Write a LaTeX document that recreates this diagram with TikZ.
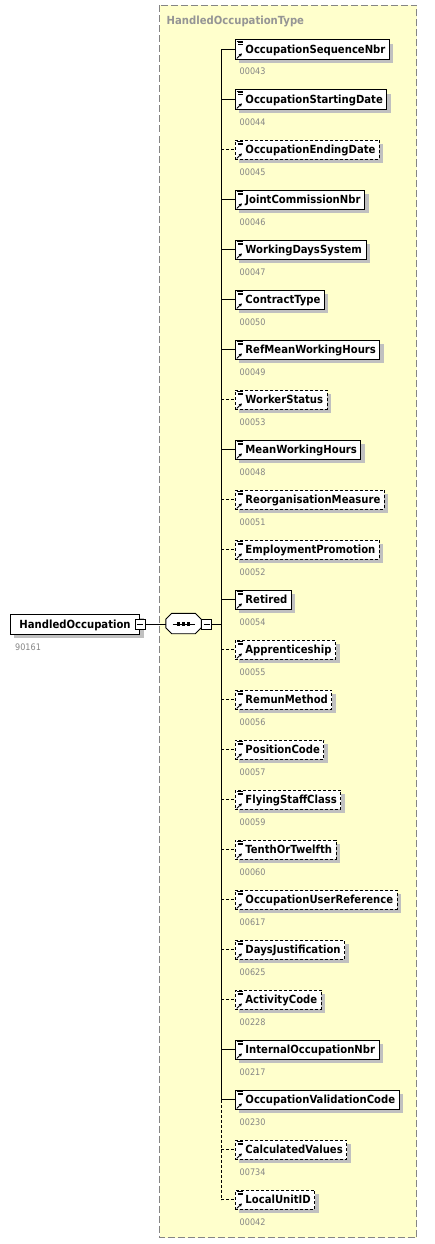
\documentclass[tikz,border=0pt]{standalone}
\usepackage{fontspec}
\newfontfamily\condfont{DejaVuSansCondensed}[Extension=.ttf, UprightFont=*, BoldFont=*-Bold]
\usetikzlibrary{calc,shadows,arrows.meta}
\definecolor{bgyellow}{HTML}{FFFFCC}
\definecolor{shadowgray}{HTML}{C0C0C0}
\definecolor{bordergray}{HTML}{858585}
\definecolor{numgray}{HTML}{858585}
\definecolor{titlegray}{HTML}{959595}
\newcommand\elemfont{\condfont\bfseries\fontsize{11.2}{13}\selectfont}
\newcommand\numfont{\condfont\fontsize{9}{10}\selectfont}
\begin{document}
\begin{tikzpicture}[x=1pt,y=-1pt,
  typeframe/.style={draw=bordergray, line width=1.1pt, dash pattern=on 7pt off 3pt, fill=bgyellow},
  elem/.style={draw, fill=white, line width=0.9pt, anchor=west, minimum height=19.5pt,
    inner ysep=0pt, inner xsep=4pt, font=\elemfont, text height=8pt, text depth=0pt,
    general shadow={fill=shadowgray, draw=none, shadow xshift=4pt, shadow yshift=-4pt}},
  mandelem/.style={solid},
  optelem/.style={dash pattern=on 3pt off 2pt},
  numlabel/.style={anchor=base west, font=\numfont, text=numgray, inner sep=0pt},
  icon/.style={line width=0.8pt},
  branch/.style={line width=0.9pt},
  minusbox/.style={draw, fill=white, line width=0.8pt, minimum size=10pt, inner sep=0pt},
  mainbox/.style={draw, fill=white, line width=0.9pt, anchor=west, minimum height=20pt,
    inner ysep=0pt, inner xsep=9pt, font=\elemfont, text height=8pt, text depth=0pt,
    general shadow={fill=shadowgray, draw=none, shadow xshift=4pt, shadow yshift=-4pt}},
  compnode/.style={minimum width=35pt, minimum height=20pt, inner sep=0pt, draw=none},
]
\useasboundingbox (0,0) rectangle (435,1244);
\draw[typeframe] (159.5,5.5) rectangle (416.5,1237.5);
\node[anchor=base west, font=\elemfont, text=titlegray, inner sep=0pt] (title) at (166.5,24.3) {HandledOccupationType};

\foreach \name/\num/\kind [count=\i] in {
OccupationSequenceNbr/00043/mandelem,
OccupationStartingDate/00044/mandelem,
OccupationEndingDate/00045/optelem,
JointCommissionNbr/00046/mandelem,
WorkingDaysSystem/00047/mandelem,
ContractType/00050/mandelem,
RefMeanWorkingHours/00049/mandelem,
WorkerStatus/00053/optelem,
MeanWorkingHours/00048/mandelem,
ReorganisationMeasure/00051/optelem,
EmploymentPromotion/00052/optelem,
Retired/00054/mandelem,
Apprenticeship/00055/optelem,
RemunMethod/00056/optelem,
PositionCode/00057/optelem,
FlyingStaffClass/00059/optelem,
TenthOrTwelfth/00060/optelem,
OccupationUserReference/00617/optelem,
DaysJustification/00625/optelem,
ActivityCode/00228/optelem,
InternalOccupationNbr/00217/mandelem,
OccupationValidationCode/00230/mandelem,
CalculatedValues/00734/optelem,
LocalUnitID/00042/optelem}
{
  \coordinate (j\i) at (221,50*\i-0.3);
  \node[elem,\kind] (e\i) at (235,50*\i-0.3) {\hspace*{6pt}\name};
  \node[numlabel] (n\i) at (239.5,50*\i+25) {\num};
  \draw[icon] ($(e\i.north west)+(1.5,1.6)$) -- ($(e\i.north west)+(7.5,1.6)$);
  \draw[icon] ($(e\i.north west)+(3,3.4)$) -- ($(e\i.north west)+(7.5,3.4)$);
  \draw[icon] ($(e\i.north west)+(3,5.2)$) -- ($(e\i.north west)+(7.5,5.2)$);
  \draw[icon,-{Triangle[length=3pt,width=3pt]}] ($(e\i.south west)+(1.8,-1.5)$) -- ($(e\i.south west)+(7,-6.5)$);
  \draw[branch,\kind] (j\i) -- (e\i.west);
}
\draw[branch] (j1) -- (j22);
\draw[branch,optelem] (j22) -- (j24);

\node[mainbox] (main) at (10,624) {HandledOccupation};
\node[numlabel] (mainnum) at (15,650) {90161};
\node[minusbox] (mminus) at (main.east) {};
\draw[line width=0.8pt] ($(mminus.center)+(-3,0)$) -- ($(mminus.center)+(3,0)$);

\node[compnode] (seq) at (183.5,623.5) {};
\fill[shadowgray, xshift=4pt, yshift=-4pt]
  ($(seq.north west)+(6,0)$) -- ($(seq.north east)+(-6,0)$) -- ($(seq.north east)+(0,6)$) --
  ($(seq.south east)+(0,-6)$) -- ($(seq.south east)+(-6,0)$) -- ($(seq.south west)+(6,0)$) --
  ($(seq.south west)+(0,-6)$) -- ($(seq.north west)+(0,6)$) -- cycle;
\draw[fill=white, line width=0.9pt]
  ($(seq.north west)+(6,0)$) -- ($(seq.north east)+(-6,0)$) -- ($(seq.north east)+(0,6)$) --
  ($(seq.south east)+(0,-6)$) -- ($(seq.south east)+(-6,0)$) -- ($(seq.south west)+(6,0)$) --
  ($(seq.south west)+(0,-6)$) -- ($(seq.north west)+(0,6)$) -- cycle;
\draw[line width=0.9pt] ($(seq.center)+(-11,0.5)$) -- ($(seq.center)+(11,0.5)$);
\foreach \dx in {-5,0,5} \fill ($(seq.center)+(\dx-1.6,-1.1)$) rectangle ($(seq.center)+(\dx+1.6,2.1)$);
\node[minusbox, anchor=west] (sminus) at (seq.east |- mminus.center) {};
\draw[line width=0.8pt] ($(sminus.center)+(-3,0)$) -- ($(sminus.center)+(3,0)$);
\coordinate (cj) at (221,624);
\draw[branch] (mminus.east) -- (seq.west |- mminus.east);
\draw[branch] (sminus.east) -- (cj);
\end{tikzpicture}
\end{document}
